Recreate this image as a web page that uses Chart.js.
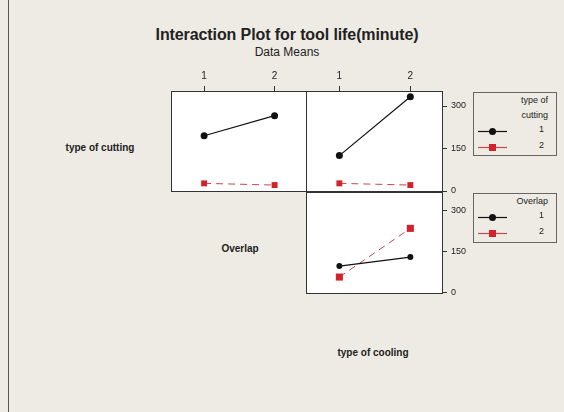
<!DOCTYPE html>
<html>
<head>
<meta charset="utf-8">
<script src="https://cdn.jsdelivr.net/npm/chart.js@4/dist/chart.umd.min.js"></script>
<style>
  html, body { margin: 0; padding: 0; }
  #page {
    position: relative; width: 564px; height: 412px; overflow: hidden;
    background: #eeebe4; font-family: "Liberation Sans", Arial, sans-serif; color: #222;
  }
  #page .frame-left { position: absolute; left: 8px; top: 0; width: 1px; height: 412px; background: #555; }
  .txt { position: absolute; white-space: nowrap; transform: translate(-50%, -50%); }
  .title { font-size: 16px; font-weight: bold; letter-spacing: -0.1px; }
  .sub { font-size: 12px; }
  .rowlab { font-size: 10px; font-weight: bold; }
  canvas { position: absolute; }
  .legend {
    position: absolute; left: 473px; width: 84px; border: 1px solid #666;
    background: #eeebe4; font-size: 9px; box-sizing: border-box;
  }
  .legend .head { text-align: right; padding-right: 8px; line-height: 15px; }
  .legend .item { position: relative; height: 16px; }
  .legend .item svg { position: absolute; left: 4px; top: 1px; }
  .legend .item span { position: absolute; right: 12px; top: 1px; }
</style>
</head>
<body>
<div id="page">
  <div class="frame-left"></div>
  <div class="txt title" style="left:287px;top:35px;">Interaction Plot for tool life(minute)</div>
  <div class="txt sub" style="left:287px;top:52px;">Data Means</div>
  <div class="txt rowlab" style="left:100px;top:147px;">type of cutting</div>
  <div class="txt rowlab" style="left:240px;top:248px;">Overlap</div>
  <div class="txt rowlab" style="left:373px;top:352px;">type of cooling</div>

  <canvas id="cutOverlap" width="136" height="126" style="left:171px;top:66px;"></canvas>
  <canvas id="cutCooling" width="172" height="132" style="left:306px;top:66px;"></canvas>
  <canvas id="overlapCooling" width="172" height="110" style="left:306px;top:192px;"></canvas>

  <div class="legend" id="legCut" style="top:92px;height:64px;"></div>
  <div class="legend" id="legOverlap" style="top:193px;height:50px;"></div>
</div>
<script>
// --- Data ---
const overlapLevels = ['1', '2'];
const coolingLevels = ['1', '2'];
const cuttingLevels = ['1', '2'];
const overlapSeriesLevels = ['1', '2'];

// type of cutting (rows) by Overlap (x)
const cut1ByOverlap = [195, 266];
const cut2ByOverlap = [27, 21];
// type of cutting (rows) by type of cooling (x)
const cut1ByCooling = [125, 333];
const cut2ByCooling = [27, 21];
// Overlap (rows) by type of cooling (x)
const overlap1ByCooling = [95, 128];
const overlap2ByCooling = [55, 233];

const yTicks = [0, 150, 300];

const BLACK = '#111111';
const RED = '#d3222c';

// white panel with dark frame
const framePlugin = {
    id: 'frame',
    beforeDraw(chart) {
        const { ctx, chartArea: a } = chart;
        ctx.save();
        ctx.fillStyle = '#ffffff';
        ctx.fillRect(a.left, a.top, a.width, a.height);
        ctx.restore();
    },
    afterDraw(chart) {
        const { ctx, chartArea: a } = chart;
        ctx.save();
        ctx.strokeStyle = '#333333';
        ctx.lineWidth = 1;
        ctx.strokeRect(a.left + 0.5, a.top + 0.5, a.width - 1, a.height - 1);
        ctx.restore();
    }
};

function toPoints(values) {
    return values.map((v, i) => ({ x: i + 1, y: v }));
}

function seriesPair(first, second, bottom) {
    return [
        {
            data: toPoints(first),
            borderColor: BLACK, backgroundColor: BLACK,
            borderWidth: 1.2, pointStyle: 'circle',
            pointRadius: bottom ? 3 : 3.5, pointBorderWidth: 0
        },
        {
            data: toPoints(second),
            borderColor: '#c8474c', backgroundColor: RED,
            borderWidth: 1, borderDash: [7, 5], pointStyle: 'rect',
            pointRadius: bottom ? 5 : 4.2, pointBorderWidth: 0
        }
    ];
}

function noPad(s) {
    s.paddingTop = 0; s.paddingBottom = 0; s.paddingLeft = 0; s.paddingRight = 0;
}

function makeChart(id, levels, datasets, opt) {
    const ctx = document.getElementById(id).getContext('2d');
    return new Chart(ctx, {
        type: 'line',
        data: { datasets: datasets },
        plugins: [framePlugin],
        options: {
            responsive: false,
            animation: false,
            layout: { autoPadding: false, padding: { top: 0, left: 0, right: 0, bottom: opt.padBottom || 0 } },
            plugins: { legend: { display: false }, tooltip: { enabled: false } },
            scales: {
                x: {
                    type: 'linear', position: 'top',
                    min: 0.53, max: 2.46,
                    display: opt.showX,
                    afterBuildTicks: (s) => { s.ticks = levels.map((l, i) => ({ value: i + 1 })); },
                    afterFit: (s) => { s.height = opt.showX ? 25 : 0; noPad(s); },
                    ticks: {
                        callback: (v) => levels[v - 1],
                        color: '#222', font: { size: 10, family: 'Liberation Sans' },
                        padding: 4, maxRotation: 0
                    },
                    grid: { drawOnChartArea: false, tickLength: 5, color: '#333', tickWidth: 1 },
                    border: { display: false }
                },
                y: {
                    type: 'linear', position: 'right',
                    min: opt.yMin, max: opt.yMax,
                    display: opt.showY,
                    afterBuildTicks: (s) => { s.ticks = yTicks.map(v => ({ value: v })); },
                    afterFit: (s) => { s.width = opt.showY ? 35 : 0; noPad(s); },
                    ticks: {
                        color: '#222', font: { size: 9, family: 'Liberation Sans' },
                        padding: 4
                    },
                    grid: { drawOnChartArea: false, tickLength: 4, color: '#333', tickWidth: 1 },
                    border: { display: false }
                }
            }
        }
    });
}

makeChart('cutOverlap', overlapLevels, seriesPair(cut1ByOverlap, cut2ByOverlap, false),
    { showX: true, showY: false, yMin: -3.5, yMax: 353 });
makeChart('cutCooling', coolingLevels, seriesPair(cut1ByCooling, cut2ByCooling, false),
    { showX: true, showY: true, yMin: -3.5, yMax: 353, padBottom: 6 });
makeChart('overlapCooling', coolingLevels, seriesPair(overlap1ByCooling, overlap2ByCooling, true),
    { showX: false, showY: true, yMin: -7, yMax: 366, padBottom: 8 });

// --- Legends ---
function sample(color, square, dashed) {
    const marker = square
        ? `<rect x="11" y="4" width="7" height="7" fill="${color}"/>`
        : `<circle cx="14.5" cy="7.5" r="3.5" fill="${color}"/>`;
    return `<svg width="30" height="15"><line x1="0" y1="7.5" x2="29" y2="7.5" stroke="${dashed ? '#c8474c' : color}" stroke-width="1.2"/>${marker}</svg>`;
}

function buildLegend(id, headLines, levels) {
    const el = document.getElementById(id);
    let html = headLines.map(h => `<div class="head">${h}</div>`).join('');
    levels.forEach((lev, i) => {
        html += `<div class="item">${sample(i === 0 ? BLACK : RED, i === 1, i === 1)}<span>${lev}</span></div>`;
    });
    el.innerHTML = html;
}

buildLegend('legCut', ['type of', 'cutting'], cuttingLevels);
buildLegend('legOverlap', ['Overlap'], overlapSeriesLevels);
</script>
</body>
</html>
